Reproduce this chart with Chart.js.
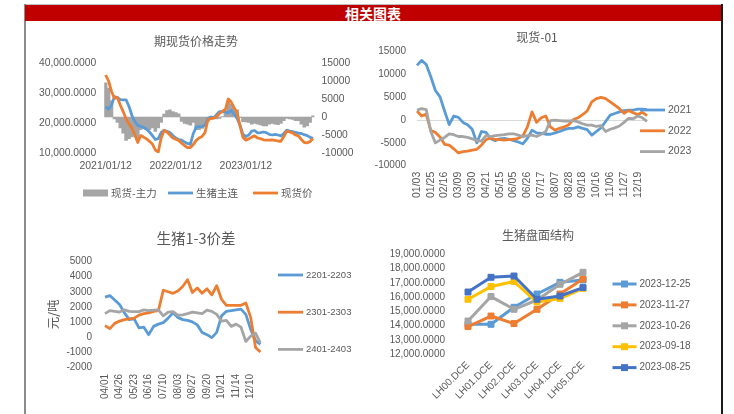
<!DOCTYPE html>
<html>
<head>
<meta charset="utf-8">
<script src="https://cdn.jsdelivr.net/npm/chart.js@4.4.0/dist/chart.umd.min.js"></script>
<style>
  html, body { margin: 0; padding: 0; background: #fff; }
  body { width: 734px; height: 414px; position: relative; overflow: hidden;
         font-family: 'Liberation Sans', 'Noto Sans CJK SC', sans-serif; }
  .vline { position: absolute; top: 4px; bottom: 0; width: 1.5px; }
  #head { position: absolute; left: 25px; top: 5px; width: 696px; height: 16px;
          background: #C00000; color: #fff; font-weight: bold; font-size: 14px;
          line-height: 16px; text-align: center; font-family: 'Noto Sans CJK SC', sans-serif; }
  #topline { position: absolute; left: 24px; top: 4px; width: 698px; height: 1px; background: #bfbfbf; }
  canvas { position: absolute; left: 0; top: 0; }
</style>
</head>
<body>
<div id="topline"></div>
<div class="vline" style="left:24px;background:#8c8c8c;"></div>
<div class="vline" style="left:721px;background:#1a1a1a;"></div>
<div id="head">相关图表</div>
<canvas id="c1" width="734" height="414"></canvas>
<canvas id="c2" width="734" height="414"></canvas>
<canvas id="c3" width="734" height="414"></canvas>
<canvas id="c4" width="734" height="414"></canvas>
<script>
// ---- 期现货价格走势 (semi-monthly samples, 2021/01 - 2023/12)
const priceDates = [];
for (let y = 2021; y <= 2023; y++)
  for (let m = 1; m <= 12; m++) {
    const mm = String(m).padStart(2, '0');
    priceDates.push(`${y}/${mm}/12`, `${y}/${mm}/27`);
  }
const yearTicks = ['2021/01/12', '2022/01/12', '2023/01/12'];
const futuresVals = [25400,24600,26000,28800,28500,27800,27700,27700,25500,22500,
  20500,19200,18900,18500,17900,17000,15800,14500,14800,16800,
  17600,17200,16800,15800,15000,14500,14300,13700,13200,12900,
  16500,18600,18800,18800,19200,21500,22000,21700,22800,23800,
  23800,23500,23500,24200,23000,21500,19300,16200,15500,16000,
  17300,17500,16700,16800,17000,16800,16200,16000,16200,16000,
  15700,16500,17600,17300,17100,16900,16600,16500,16100,15800,
  15200,14900];
const spotVals = [36000,34000,30500,28300,28500,26000,23800,21300,19700,18300,
  16000,13500,15800,15300,14700,13900,13000,11000,10300,15000,
  17500,17000,16000,15000,14600,14200,13300,12500,11800,11800,
  12800,14200,15000,15500,16800,21000,21500,21600,22200,23200,
  23900,24500,28000,27000,25000,23500,19000,15200,14300,14700,
  15300,15700,15000,14800,14400,14300,14300,14400,14200,14000,
  13900,15500,17300,17000,16700,16000,15700,14500,13500,13400,
  13800,14800];
const basisVals = [9500,8000,4500,-500,-1500,-3000,-4500,-6500,-6000,-5500,
  -5000,-6000,-3500,-3000,-3200,-3500,-3000,-4000,-3000,-1500,
  800,1800,2000,1500,1200,900,-1200,-1800,-2000,-2300,
  -1500,-3500,-3500,-3200,-2500,-1200,-600,0,-500,-400,
  100,800,4500,3500,2500,2000,-200,-1300,-1400,-1500,
  -2000,-1800,-2000,-2200,-2500,-2500,-2000,-1800,-2000,-2100,
  -1800,-1000,-400,-500,-700,-1000,-1000,-2000,-2800,-2500,
  -1500,300];

// ---- 现货-01
const spotTicks = ['01/03','01/25','02/16','03/09','03/30','04/21','05/15','06/05','06/26',
  '07/17','08/07','08/28','09/18','10/16','11/06','11/27','12/19'];
const basis2021 = [12000,13100,12200,9500,6500,5100,2000,-1000,900,600,
  -500,-1000,-2000,-5000,-2500,-2700,-4100,-4500,-4100,-4000,
  -4200,-4500,-4800,-5200,-4000,-2200,-2800,-2900,-3100,-3100,
  -2800,-2500,-2100,-1800,-1800,-1500,-1800,-2100,-3300,-2500,
  -1700,-300,1100,1450,1800,2100,2200,2200,2400,2400,
  2300];
const basis2022 = [2000,900,1300,-2300,-2700,-3700,-5300,-5500,-6300,-7200,
  -6900,-6800,-6600,-6400,-5500,-4300,-3900,-4300,-4300,-4400,
  -4300,-4200,-4000,-3500,-1500,1800,-500,500,900,-1500,
  -2200,-1800,-1500,-1000,100,500,1200,2000,4000,4700,
  5000,4700,4000,3300,2500,1500,2100,1600,1200,1700,
  1000];
const basis2023 = [2200,2500,2300,-2500,-5000,-4400,-3800,-3000,-3200,-3600,
  -3600,-3800,-4100,-4500,-4600,-3400,-3600,-3400,-3300,-3200,
  -3000,-3000,-3300,-3600,-3400,-3300,-3600,-3100,-2500,-100,
  0,-100,-200,-200,-100,-400,-800,-1100,-1100,-1400,
  -1200,-2500,-2000,-1700,-1300,-500,400,300,900,500,
  -300];

// ---- 生猪1-3价差
const spreadTicks = ['04/01','04/26','05/23','06/16','07/10','08/03','08/27','09/20','10/21','11/14','12/10'];
const spread2201 = [2650,2750,2450,2150,1600,1150,1200,600,650,150,
  700,850,950,1250,1600,1300,1150,1100,1000,800,
  300,150,-50,300,1400,1700,1750,1800,1850,1500,
  500,-250,-500];
const spread2301 = [750,550,900,1050,1150,1200,1250,1450,1550,1600,
  1700,1750,3100,3000,2900,3050,3350,3800,2950,3250,
  2900,3200,2800,3400,2500,2100,2100,2100,2100,2250,
  1300,-700,-1000];
const spread2401 = [1550,1750,1700,1650,1800,1700,1680,1680,1800,1750,
  1780,1800,1400,1650,1680,1450,1460,1550,1650,1600,
  1550,1780,1700,1500,1050,1100,700,850,650,-300,
  50,250,-400];

// ---- 生猪盘面结构
const contracts = ['LH00.DCE','LH01.DCE','LH02.DCE','LH03.DCE','LH04.DCE','LH05.DCE'];
const curve1225 = [14100,14100,15290,16220,17040,17200];
const curve1127 = [13940,14680,14150,15150,16220,17270];
const curve1026 = [14330,16040,15150,15800,16900,17740];
const curve0918 = [15850,16740,17090,15660,15900,16620];
const curve0825 = [16360,17390,17480,15850,16080,16670];

// sparse categories: a tick name every third slot
function spreadOut(ticks, n) {
  const out = [];
  for (let i = 0; i < n; i++) out.push(i % 3 === 0 && ticks[i / 3] ? ticks[i / 3] : '');
  return out;
}
const spotDays = spreadOut(spotTicks, basis2021.length);
const spreadDays = spreadOut(spreadTicks, spread2201.length);

Chart.defaults.font.family = "'Liberation Sans', 'Noto Sans CJK SC', sans-serif";
Chart.defaults.color = '#595959';

const GREY = '#595959';
const fmt4 = v => Number(v).toLocaleString('en-US', {minimumFractionDigits: 4, maximumFractionDigits: 4});
const plain = v => String(v);

// titles and legends placed like the Excel sheet
const panelDecor = {
  id: 'panelDecor',
  afterDraw(chart, args, o) {
    const ctx = chart.ctx;
    ctx.save();
    if (o.title) {
      ctx.font = o.title.font;
      ctx.fillStyle = GREY;
      ctx.textAlign = 'center';
      ctx.textBaseline = 'middle';
      ctx.fillText(o.title.text, o.title.x, o.title.y);
    }
    const lg = o.legend;
    if (lg) {
      ctx.font = lg.font;
      ctx.textAlign = 'left';
      ctx.textBaseline = 'middle';
      let x = lg.x, y = lg.y;
      chart.data.datasets.forEach(ds => {
        if (ds.type === 'bar') {
          ctx.fillStyle = ds.backgroundColor;
          ctx.fillRect(x, y - 3.5, lg.len, 7);
        } else {
          ctx.strokeStyle = ds.borderColor;
          ctx.lineWidth = ds.borderWidth;
          ctx.beginPath(); ctx.moveTo(x, y); ctx.lineTo(x + lg.len, y); ctx.stroke();
          if (ds.pointRadius > 0) {
            const s = ds.pointRadius * Math.SQRT1_2 + 0.5;
            ctx.fillStyle = ds.borderColor;
            ctx.fillRect(x + lg.len / 2 - s, y - s, 2 * s, 2 * s);
          }
        }
        ctx.fillStyle = GREY;
        ctx.fillText(ds.label, x + lg.len + lg.gap, y);
        x += lg.dx || 0;
        y += lg.dy || 0;
      });
    }
    ctx.restore();
  }
};

const noGrid = { display: false, drawTicks: false };
const noBorder = { display: false };
const base = { responsive: false, animation: false, events: [] };
const line = (label, data, color, extra) => Object.assign({
  type: 'line', label, data, borderColor: color, backgroundColor: color,
  borderWidth: 2.8, pointRadius: 0, tension: 0, borderJoinStyle: 'round'
}, extra || {});

// chart 1
new Chart(document.getElementById('c1'), {
  data: {
    labels: priceDates,
    datasets: [
      { type: 'bar', label: '现货-主力', data: basisVals, backgroundColor: '#A5A5A5',
        yAxisID: 'yR', barPercentage: 1, categoryPercentage: 1, order: 3 },
      line('生猪主连', futuresVals, '#5B9BD5', { yAxisID: 'yL', order: 2 }),
      line('现货价', spotVals, '#ED7D31', { yAxisID: 'yL', order: 1 })
    ]
  },
  options: Object.assign({}, base, {
    layout: { padding: { left: 30, right: 379, top: 63, bottom: 241 } },
    plugins: {
      legend: { display: false }, tooltip: { enabled: false },
      panelDecor: {
        title: { text: '期现货价格走势', x: 196, y: 41, font: "12px 'Noto Sans CJK SC'" },
        legend: { x: 83, y: 193, dx: 85, len: 25, gap: 3, font: "10.5px 'Noto Sans CJK SC'" }
      }
    },
    scales: {
      x: { grid: noGrid, border: noBorder,
           ticks: { autoSkip: false, maxRotation: 0, minRotation: 0, padding: 7, font: { size: 10.5 },
                    callback(v) { const l = this.getLabelForValue(v); return yearTicks.includes(l) ? l : ''; } },
           afterFit(s) { s.height = 20; } },
      yL: { position: 'left', min: 10000, max: 40000, grid: noGrid, border: noBorder,
            ticks: { stepSize: 10000, autoSkip: false, padding: 8, font: { size: 10.3 }, callback: fmt4 },
            afterFit(s) { s.width = 74.2; } },
      yR: { position: 'right', min: -10000, max: 15000, grid: noGrid, border: noBorder,
            ticks: { stepSize: 5000, autoSkip: false, padding: 7, font: { size: 10.3 }, callback: plain },
            afterFit(s) { s.width = 40.5; } }
    }
  }),
  plugins: [panelDecor]
});

// chart 2
new Chart(document.getElementById('c2'), {
  data: {
    labels: spotDays,
    datasets: [
      line('2021', basis2021, '#5B9BD5', { order: 3 }),
      line('2022', basis2022, '#ED7D31', { order: 2 }),
      line('2023', basis2023, '#A5A5A5', { order: 1 })
    ]
  },
  options: Object.assign({}, base, {
    layout: { padding: { left: 367, right: 87, top: 51.7, bottom: 213.3 } },
    plugins: {
      legend: { display: false }, tooltip: { enabled: false },
      panelDecor: {
        title: { text: '现货-01', x: 537, y: 37, font: "12px 'Noto Sans CJK SC'" },
        legend: { x: 640, y: 110, dy: 20.8, len: 25, gap: 3, font: "10.5px 'Liberation Sans'" }
      }
    },
    scales: {
      x: { grid: noGrid, border: noBorder,
           ticks: { autoSkip: false, maxRotation: 90, minRotation: 90, padding: 6, font: { size: 10.5 } },
           afterFit(s) { s.height = 35; } },
      y: { min: -10000, max: 15000, border: noBorder,
           grid: { drawTicks: false, lineWidth: 1,
                   color: c => c.tick && c.tick.value === 0 ? '#D9D9D9' : 'rgba(0,0,0,0)' },
           ticks: { stepSize: 5000, autoSkip: false, padding: 11, font: { size: 10 }, callback: plain },
           afterFit(s) { s.width = 50; } }
    }
  }),
  plugins: [panelDecor]
});

// chart 3
new Chart(document.getElementById('c3'), {
  data: {
    labels: spreadDays,
    datasets: [
      line('2201-2203', spread2201, '#5B9BD5', { order: 3 }),
      line('2301-2303', spread2301, '#ED7D31', { order: 2 }),
      line('2401-2403', spread2401, '#A5A5A5', { order: 1 })
    ]
  },
  options: Object.assign({}, base, {
    layout: { padding: { left: 46, right: 473.6, top: 261.7, bottom: 12 } },
    plugins: {
      legend: { display: false }, tooltip: { enabled: false },
      panelDecor: {
        title: { text: '生猪1-3价差', x: 196, y: 238, font: "14.5px 'Noto Sans CJK SC'" },
        legend: { x: 278, y: 275, dy: 37.2, len: 25, gap: 3, font: "9.5px 'Liberation Sans'" }
      }
    },
    scales: {
      x: { grid: noGrid, border: noBorder,
           ticks: { autoSkip: false, maxRotation: 90, minRotation: 90, padding: 7, font: { size: 10 } },
           afterFit(s) { s.height = 35; } },
      y: { min: -2000, max: 5000, grid: noGrid, border: noBorder,
           title: { display: true, text: '元/吨', color: GREY, padding: 0,
                    font: { size: 12.5, family: "'Noto Sans CJK SC'" } },
           ticks: { stepSize: 1000, autoSkip: false, padding: 13, font: { size: 10 }, callback: plain },
           afterFit(s) { s.width = 59; } }
    }
  }),
  plugins: [panelDecor]
});

// chart 4
const mark = (label, data, color, order) => line(label, data, color, {
  order, borderWidth: 3, pointStyle: 'rect', pointRadius: 4.2,
  pointBackgroundColor: color, pointBorderColor: color, pointBorderWidth: 1
});
new Chart(document.getElementById('c4'), {
  data: {
    labels: contracts,
    datasets: [
      mark('2023-12-25', curve1225, '#5B9BD5', 5),
      mark('2023-11-27', curve1127, '#ED7D31', 4),
      mark('2023-10-26', curve1026, '#A5A5A5', 3),
      mark('2023-09-18', curve0918, '#FFC000', 2),
      mark('2023-08-25', curve0825, '#4472C4', 1)
    ]
  },
  options: Object.assign({}, base, {
    layout: { padding: { left: 390.5, right: 139.5, top: 254.3, bottom: 14.7 } },
    plugins: {
      legend: { display: false }, tooltip: { enabled: false },
      panelDecor: {
        title: { text: '生猪盘面结构', x: 538, y: 235, font: "12px 'Noto Sans CJK SC'" },
        legend: { x: 612.5, y: 284, dy: 20.9, len: 24, gap: 3, font: "10px 'Liberation Sans'" }
      }
    },
    scales: {
      x: { offset: true, grid: noGrid, border: noBorder,
           ticks: { autoSkip: false, maxRotation: 45, minRotation: 45, padding: 5, font: { size: 10 } },
           afterFit(s) { s.height = 45; } },
      y: { min: 12000, max: 19000, grid: noGrid, border: noBorder,
           ticks: { stepSize: 1000, autoSkip: false, padding: 11.5, font: { size: 10 }, callback: fmt4 },
           afterFit(s) { s.width = 66; } }
    }
  }),
  plugins: [panelDecor]
});
</script>
</body>
</html>
